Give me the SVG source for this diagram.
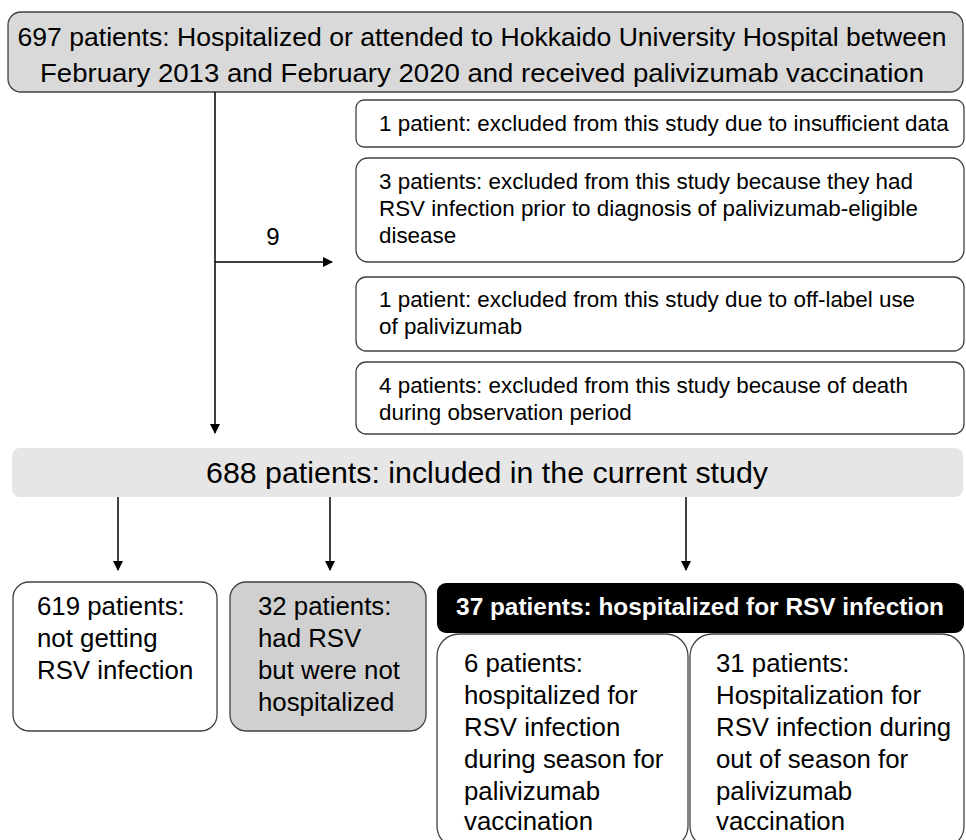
<svg xmlns="http://www.w3.org/2000/svg" width="966" height="840" viewBox="0 0 966 840">
<defs>
<marker id="ah" markerWidth="10" markerHeight="10" refX="9" refY="5" orient="auto" markerUnits="userSpaceOnUse">
<path d="M0,0 L10,5 L0,10 Z" fill="#000"/>
</marker>
<style>
.box{stroke:#404040;stroke-width:1.3}
.t{font-family:"Liberation Sans",Arial,sans-serif;fill:#000}
.n{font-family:"Liberation Sans",Arial,sans-serif;fill:#000}
.c{stroke:#000;stroke-width:1.5;fill:none}
</style>
</defs>
<rect width="966" height="840" fill="#fff"/>
<g id="top">
<rect class="box" x="8" y="12" width="955" height="80" rx="13" fill="#d9d9d9"/>
<text class="n" x="482" y="46" font-size="26.5" text-anchor="middle" textLength="929" lengthAdjust="spacingAndGlyphs">697 patients: Hospitalized or attended to Hokkaido University Hospital between</text>
<text class="n" x="482" y="82" font-size="26.5" text-anchor="middle" textLength="884" lengthAdjust="spacingAndGlyphs">February 2013 and February 2020 and received palivizumab vaccination</text>
</g>
<g id="ex1">
<rect class="box" x="356" y="100" width="608" height="47" rx="8" fill="#fff"/>
<text class="t" x="379" y="131" font-size="22.4">1 patient: excluded from this study due to insufficient data</text>
</g>
<g id="ex2">
<rect class="box" x="356" y="158" width="608" height="104" rx="12" fill="#fff"/>
<text class="t" font-size="22.4"><tspan x="379" y="189">3 patients: excluded from this study because they had</tspan><tspan x="379" y="216">RSV infection prior to diagnosis of palivizumab-eligible</tspan><tspan x="379" y="243">disease</tspan></text>
</g>
<g id="ex3">
<rect class="box" x="356" y="277" width="608" height="74" rx="10" fill="#fff"/>
<text class="t" font-size="22.4"><tspan x="379" y="307">1 patient: excluded from this study due to off-label use</tspan><tspan x="379" y="334">of palivizumab</tspan></text>
</g>
<g id="ex4">
<rect class="box" x="356" y="362" width="608" height="72" rx="10" fill="#fff"/>
<text class="t" font-size="22.4"><tspan x="379" y="393">4 patients: excluded from this study because of death</tspan><tspan x="379" y="420">during observation period</tspan></text>
</g>
<g id="included">
<rect x="12" y="448" width="951" height="49" rx="8" fill="#e6e6e6"/>
<text class="n" x="487" y="483" font-size="30" text-anchor="middle" textLength="562" lengthAdjust="spacingAndGlyphs">688 patients: included in the current study</text>
</g>
<g id="b619">
<rect class="box" x="13" y="582" width="204" height="149" rx="16" fill="#fff"/>
<text class="t" font-size="25.8"><tspan x="37" y="615">619 patients:</tspan><tspan x="37" y="647">not getting</tspan><tspan x="37" y="679">RSV infection</tspan></text>
</g>
<g id="b32">
<rect class="box" x="230" y="582" width="196" height="149" rx="16" fill="#d0d0d0"/>
<text class="t" font-size="25.8"><tspan x="258" y="615">32 patients:</tspan><tspan x="258" y="647">had RSV</tspan><tspan x="258" y="679">but were not</tspan><tspan x="258" y="711">hospitalized</tspan></text>
</g>
<g id="b37">
<rect x="437" y="583" width="527" height="50" rx="9" fill="#000"/>
<text class="t" x="700" y="615" font-size="24.4" font-weight="bold" text-anchor="middle" style="fill:#fff">37 patients: hospitalized for RSV infection</text>
</g>
<g id="b6">
<rect class="box" x="437" y="634" width="251" height="214" rx="22" fill="#fff"/>
<text class="t" font-size="25.8"><tspan x="464" y="672">6 patients:</tspan><tspan x="464" y="704">hospitalized for</tspan><tspan x="464" y="736">RSV infection</tspan><tspan x="464" y="768">during season for</tspan><tspan x="464" y="800">palivizumab</tspan><tspan x="464" y="830">vaccination</tspan></text>
</g>
<g id="b31">
<rect class="box" x="690" y="634" width="274" height="214" rx="22" fill="#fff"/>
<text class="t" font-size="25.8"><tspan x="716" y="672">31 patients:</tspan><tspan x="716" y="704">Hospitalization for</tspan><tspan x="716" y="736">RSV infection during</tspan><tspan x="716" y="768">out of season for</tspan><tspan x="716" y="800">palivizumab</tspan><tspan x="716" y="830">vaccination</tspan></text>
</g>
<g id="connectors">
<line class="c" x1="215" y1="92" x2="215" y2="433" marker-end="url(#ah)"/>
<line class="c" x1="215" y1="262" x2="332" y2="262" marker-end="url(#ah)"/>
<text class="t" x="273" y="245" font-size="24" text-anchor="middle">9</text>
<line class="c" x1="118" y1="497" x2="118" y2="570" marker-end="url(#ah)"/>
<line class="c" x1="330" y1="497" x2="330" y2="570" marker-end="url(#ah)"/>
<line class="c" x1="686" y1="497" x2="686" y2="570" marker-end="url(#ah)"/>
</g>
</svg>
